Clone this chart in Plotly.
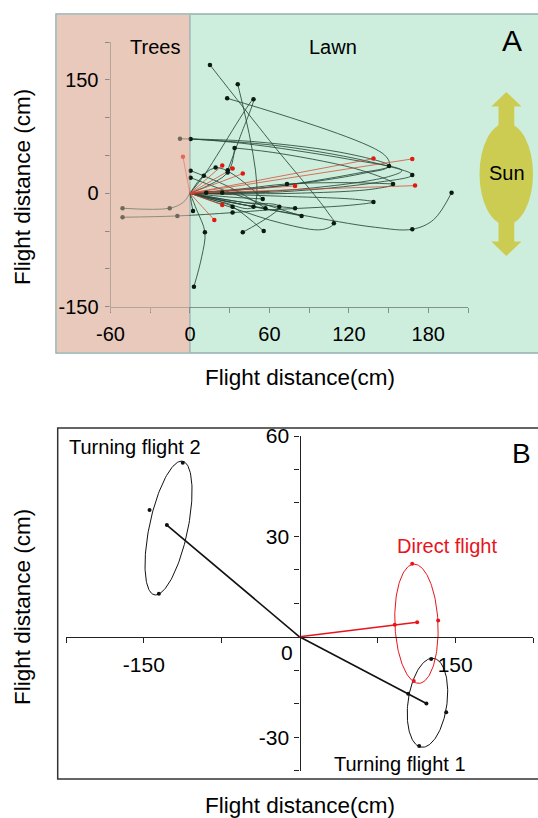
import numpy as np
import plotly.graph_objects as go

W, H = 538, 818
FONT = "Liberation Sans, Arial, sans-serif"

# ---------------- Panel A data (cm) ----------------
A_X_TICKS = [-60, 0, 60, 120, 180]
A_X_LABELS = ["-60", "0", "60", "120", "180"]
A_X_MINOR = [-30, 30, 90, 150, 210]
A_Y_TICKS = [-150, 0, 150]
A_Y_LABELS = ["-150", "0", "150"]
A_Y_MINOR = [-100, -50, 50, 100, 200]
A_X_RANGE = [-60, 210]
A_Y_RANGE = [-150, 200]

# turning (black) flight tracks: (x list, y list)
tracks_black = [
    ([0, 60, 125, 150.4, 120, 50, 0.5, -7.5], [0, 8, 26, 36.1, 52, 68, 71.8, 72]),
    ([0, 70, 140, 167.9, 140, 70, 0.5], [0, 2, 14, 24.2, 40, 62, 71.8]),
    ([0, 80, 140, 153.4, 130, 70, 33.7], [0, 0, 6, 12.3, 30, 52, 59.9]),
    ([0, 70, 130, 150.4, 147, 28.1], [0, 10, 26, 36.1, 50.6, 125.6]),
    ([0, 30, 70, 100, 108.7, 104, 60, 15.1], [0, -18, -40, -48, -39.7, -25, 70, 169.7]),
    ([0, 25, 48, 36.1], [0, -12, -17.7, 144.2]),
    ([0, 10.5, 48, 38, 28.5], [0, 23.3, 124.3, 75, 30.4]),
    ([0, 70, 125, 138.6, 120, 60, 32.2, -9.5, -50.9], [0, -4, -8, -11.5, -16, -22, -25.6, -30, -31.7]),
    ([0, -5, -15.3, -50.9], [0, -12, -19.8, -19.8]),
    ([0, 40, 83, 140, 167.9, 184, 197.6], [0, -15, -28.5, -45, -47.6, -35, 0.8]),
    ([0, 40, 67.5, 39.9], [0, -12, -17.7, -51.6]),
    ([0, 20, 32.2, 55.7], [0, -10, -17.7, -49.9]),
    ([0, 5.1, 11.3, 8.9, 3], [0, -22, -51.6, -83.9, -123.5]),
    ([0, 1, 2.3], [0, -12, -23.4]),
    ([0, 40, 70, 84.3], [0, -15, -25, -30]),
    ([0, 40, 79.4], [0, -12, -19.8]),
    ([0, 30, 57], [0, -12, -19.8]),
    ([0, 30, 55], [0, -5, -7.5]),
    ([0, 19.4, 55], [0, 33.9, -7.5]),
    ([0, 40, 73.3, 120, 153.4], [0, 6, 12.3, 14, 12.3]),
    ([0.5, 30, 57], [29.9, 8, -19.8]),
    ([0.5, 40, 84.3], [20.6, -5, -30]),
    ([0, 24.4, 60], [0, 0.8, 2]),
    ([0, 80, 150, 160, 120, 40, 0.5], [0, 5, 22, 30, 45, 66, 71.8]),
    ([0, 28.5, 33.7], [0, 27.3, 59.9]),
]

dots_black_x = [15.1, 36.1, 28.1, 48, 0.5, 33.7, 150.4, 167.9, 153.4, 73.3, 138.6, 197.6,
                167.9, 108.7, 84.3, 79.4, 67.5, 57, 48, 55, 32.2, 32.2, 55.7, 39.9, 11.3,
                2.3, 24.4, 12.3, 10.5, 19.4, 28.5, 28.5, 0.5, 0.5, 3, -7.5, -15.3, -50.9,
                -9.5, -50.9]
dots_black_y = [169.7, 144.2, 125.6, 124.3, 71.8, 59.9, 36.1, 24.2, 12.3, 12.3, -11.5, 0.8,
                -47.6, -39.7, -30, -19.8, -17.7, -19.8, -17.7, -7.5, -17.7, -25.6, -49.9, -51.6,
                -51.6, -23.4, 0.8, 0.8, 23.3, 33.9, 30.4, 27.3, 29.9, 20.6, -123.5, 72, -19.8,
                -19.8, -30, -31.7]

# direct (red) flight end points
red_x = [138.6, 167.9, 170, 79.4, 39.9, 32.2, 24.4, 24.4, 18.4, -5.3]
red_y = [45.8, 45.4, 10.1, 9.7, 26, 32.6, 36.6, -15.5, -35.3, 48.4]

# ---------------- Panel B data (cm) ----------------
B_X_TICKS = [-150, 150]
B_X_LABELS = ["-150", "150"]
B_X_MINOR = [-225, -75, 75, 225]
B_Y_TICKS = [-30, 30, 60]
B_Y_LABELS = ["-30", "30", "60"]
B_Y_MINOR = [-40, -20, -10, 10, 20, 40, 50]
B_X_RANGE = [-225, 225]
B_Y_RANGE = [-40, 60]

direct_vec_x = [0, 91.8, 113.4]
direct_vec_y = [0, 3.6, 4.35]
direct_dots_x = [91.8, 113.4, 108.6, 133.6, 110.1]
direct_dots_y = [3.6, 4.35, 21.8, 4.9, -13.2]
direct_ellipse = dict(c=(112.7, 3.9), u=(-2.2, 17.8), v=(20.8, 0))

turn1_vec_x = [0, 104.7, 122.3]
turn1_vec_y = [0, -17.0, -19.9]
turn1_dots_x = [104.7, 122.3, 126.9, 141.4, 115.3]
turn1_dots_y = [-17.0, -19.9, -6.6, -22.5, -32.6]
turn1_ellipse = dict(c=(123.3, -19.7), u=(4.8, 13.3), v=(18.9, 0))

turn2_vec_x = [0, -127.8]
turn2_vec_y = [0, 33.4]
turn2_dots_x = [-127.8, -112.5, -144.5, -135.5]
turn2_dots_y = [33.4, 52.0, 37.9, 12.9]
turn2_ellipse = dict(c=(-126.2, 32.5), u=(12.5, 20.0), v=(18.9, 0))

# ---------------- colours ----------------
TREES = "#e8c9bb"
LAWN = "#cdeedd"
BLACK_TRACK = "rgba(40,70,55,0.85)"
RED_TRACK = "rgba(215,70,50,0.75)"
RED = "#e8141c"
SUN = "#cccc52"


def fx(p):
    return p / W


def fy(p):
    return 1 - p / H


A_XDOM = [fx(110.5), fx(468)]
A_YDOM = [fy(306.7), fy(42)]
B_XDOM = [fx(66), fx(533)]
B_YDOM = [fy(770.7), fy(436)]


def to_paper(v, dom, rng):
    return dom[0] + (v - rng[0]) / (rng[1] - rng[0]) * (dom[1] - dom[0])


def ellipse(e, n=160):
    t = np.linspace(0, 2 * np.pi, n)
    cx, cy = e["c"]
    ux, uy = e["u"]
    vx, vy = e["v"]
    return cx + ux * np.cos(t) + vx * np.sin(t), cy + uy * np.cos(t) + vy * np.sin(t)


fig = go.Figure()

# ---- panel A traces ----
for xs, ys in tracks_black:
    fig.add_trace(go.Scatter(x=xs, y=ys, mode="lines", xaxis="x", yaxis="y",
                             line=dict(color=BLACK_TRACK, width=1, shape="spline", smoothing=1.0),
                             hoverinfo="skip", showlegend=False))
for rx, ry in zip(red_x, red_y):
    fig.add_trace(go.Scatter(x=[0, rx], y=[0, ry], mode="lines", xaxis="x", yaxis="y",
                             line=dict(color=RED_TRACK, width=1), hoverinfo="skip", showlegend=False))
fig.add_trace(go.Scatter(x=dots_black_x, y=dots_black_y, mode="markers", xaxis="x", yaxis="y",
                         marker=dict(color="#0a1a10", size=4.5), showlegend=False))
fig.add_trace(go.Scatter(x=red_x, y=red_y, mode="markers", xaxis="x", yaxis="y",
                         marker=dict(color="#e01a10", size=4.5), showlegend=False))

# ---- panel B traces ----
for ell, col in [(turn2_ellipse, "#111"), (turn1_ellipse, "#111"), (direct_ellipse, RED)]:
    ex, ey = ellipse(ell)
    fig.add_trace(go.Scatter(x=ex, y=ey, mode="lines", xaxis="x2", yaxis="y2",
                             line=dict(color=col, width=1), hoverinfo="skip", showlegend=False))
for vx_, vy_, col in [(turn2_vec_x, turn2_vec_y, "#111"), (turn1_vec_x, turn1_vec_y, "#111"),
                      (direct_vec_x, direct_vec_y, RED)]:
    fig.add_trace(go.Scatter(x=vx_, y=vy_, mode="lines", xaxis="x2", yaxis="y2",
                             line=dict(color=col, width=1.6), hoverinfo="skip", showlegend=False))
for dx, dy, col in [(turn2_dots_x, turn2_dots_y, "#111"), (turn1_dots_x, turn1_dots_y, "#111"),
                    (direct_dots_x, direct_dots_y, RED)]:
    fig.add_trace(go.Scatter(x=dx, y=dy, mode="markers", xaxis="x2", yaxis="y2",
                             marker=dict(color=col, size=4), showlegend=False))

# ---- shapes ----
x0A = to_paper(0, A_XDOM, A_X_RANGE)
shapes = [
    dict(type="rect", xref="paper", yref="paper", x0=fx(56), x1=fx(560), y0=fy(353), y1=fy(14),
         fillcolor=LAWN, line=dict(color="#93aeb0", width=1.5), layer="below"),
    dict(type="rect", xref="paper", yref="paper", x0=fx(56.8), x1=x0A, y0=fy(352.2), y1=fy(14.8),
         fillcolor=TREES, line=dict(width=0), layer="below"),
    dict(type="line", xref="paper", yref="paper", x0=x0A, x1=x0A, y0=fy(352.2), y1=fy(14.8),
         line=dict(color="#93aeb0", width=1.2), layer="below"),
    # tint of the trees over the tracks
    dict(type="rect", xref="paper", yref="paper", x0=fx(109), x1=x0A - 0.001, y0=fy(312), y1=fy(40),
         fillcolor="rgba(232,201,187,0.45)", line=dict(width=0), layer="above"),
    # sun
    dict(type="circle", xref="paper", yref="paper", x0=fx(479.5), x1=fx(533), y0=fy(225), y1=fy(123),
         fillcolor=SUN, line=dict(width=0), layer="below"),
    dict(type="path", xref="paper", yref="paper", layer="below", fillcolor=SUN, line=dict(width=0),
         path=(f"M {fx(506.3)},{fy(92)} L {fx(521.5)},{fy(106.5)} L {fx(514.3)},{fy(106.5)} "
               f"L {fx(514.3)},{fy(126)} L {fx(498.5)},{fy(126)} L {fx(498.5)},{fy(106.5)} "
               f"L {fx(491.3)},{fy(106.5)} Z")),
    dict(type="path", xref="paper", yref="paper", layer="below", fillcolor=SUN, line=dict(width=0),
         path=(f"M {fx(506.3)},{fy(256)} L {fx(521.5)},{fy(241.5)} L {fx(514.3)},{fy(241.5)} "
               f"L {fx(514.3)},{fy(222)} L {fx(498.5)},{fy(222)} L {fx(498.5)},{fy(241.5)} "
               f"L {fx(491.3)},{fy(241.5)} Z")),
    # panel B frame
    dict(type="rect", xref="paper", yref="paper", x0=fx(57.7), x1=fx(560), y0=fy(779), y1=fy(428),
         fillcolor="white", line=dict(color="#333333", width=1.5), layer="below"),
]


def ann(text, x, y, size, color="black", xanchor="center", yanchor="middle", textangle=0):
    return dict(text=text, xref="paper", yref="paper", x=fx(x), y=fy(y), showarrow=False,
                font=dict(family=FONT, size=size, color=color), xanchor=xanchor, yanchor=yanchor,
                textangle=textangle)


annotations = [
    ann("Trees", 154.5, 47.5, 20),
    ann("Lawn", 333.3, 47.5, 20),
    ann("A", 511.7, 40, 30),
    ann("Sun", 506.5, 173.5, 20),
    ann("Flight distance(cm)", 300, 378, 22.5),
    ann("Flight distance (cm)", 22, 187, 22.5, textangle=-90),
    ann("Turning flight 2", 66.5, 447, 20, xanchor="left"),
    ann("Direct flight", 395, 545.5, 20, color=RED, xanchor="left"),
    ann("Turning flight 1", 400, 763.5, 20),
    ann("B", 521.7, 453, 28),
    ann("Flight distance(cm)", 300, 805, 22.5),
    ann("Flight distance (cm)", 22, 607, 22.5, textangle=-90),
    dict(text="0", xref="x2", yref="y2", x=0, y=0, showarrow=False, xanchor="right", yanchor="top",
         xshift=-5, yshift=-2, font=dict(family=FONT, size=21, color="black")),
]

axA_col = "rgba(105,115,110,0.75)"
common = dict(showgrid=False, zeroline=False, showline=True, automargin=False, ticks="outside",
              ticklen=5, tickmode="array")
fig.update_layout(
    template="none",
    width=W, height=H, autosize=False,
    margin=dict(l=0, r=0, t=0, b=0, pad=0, autoexpand=False),
    paper_bgcolor="white", plot_bgcolor="rgba(0,0,0,0)",
    font=dict(family=FONT, color="black"),
    showlegend=False, shapes=shapes, annotations=annotations,
    xaxis=dict(domain=A_XDOM, range=A_X_RANGE, anchor="y", linecolor=axA_col, linewidth=1,
               tickcolor=axA_col, tickvals=A_X_TICKS, ticktext=A_X_LABELS,
               tickfont=dict(size=20, family=FONT), ticklabelstandoff=4,
               minor=dict(tickmode="array", tickvals=A_X_MINOR, ticks="outside", ticklen=5,
                          tickcolor=axA_col, showgrid=False), **common),
    yaxis=dict(domain=A_YDOM, range=A_Y_RANGE, anchor="x", linecolor=axA_col, linewidth=1,
               tickcolor=axA_col, tickvals=A_Y_TICKS, ticktext=A_Y_LABELS,
               tickfont=dict(size=20, family=FONT), ticklabelstandoff=2,
               minor=dict(tickmode="array", tickvals=A_Y_MINOR, ticks="outside", ticklen=5,
                          tickcolor=axA_col, showgrid=False), **common),
    xaxis2=dict(domain=B_XDOM, range=B_X_RANGE, anchor="free",
                position=to_paper(0, B_YDOM, B_Y_RANGE), linecolor="#222", linewidth=1.2,
                tickcolor="#222", tickvals=B_X_TICKS, ticktext=B_X_LABELS,
                tickfont=dict(size=21, family=FONT), ticklabelstandoff=4,
                minor=dict(tickmode="array", tickvals=B_X_MINOR, ticks="outside", ticklen=5,
                           tickcolor="#222", showgrid=False), **common),
    yaxis2=dict(domain=B_YDOM, range=B_Y_RANGE, anchor="free",
                position=to_paper(0, B_XDOM, B_X_RANGE), linecolor="#222", linewidth=1.2,
                tickcolor="#222", tickvals=B_Y_TICKS, ticktext=B_Y_LABELS,
                tickfont=dict(size=21, family=FONT), ticklabelstandoff=1,
                minor=dict(tickmode="array", tickvals=B_Y_MINOR, ticks="outside", ticklen=5,
                           tickcolor="#222", showgrid=False), **common),
)

fig.write_html("out.html", config={"displayModeBar": False},
               post_script="document.body.style.margin='0';")
